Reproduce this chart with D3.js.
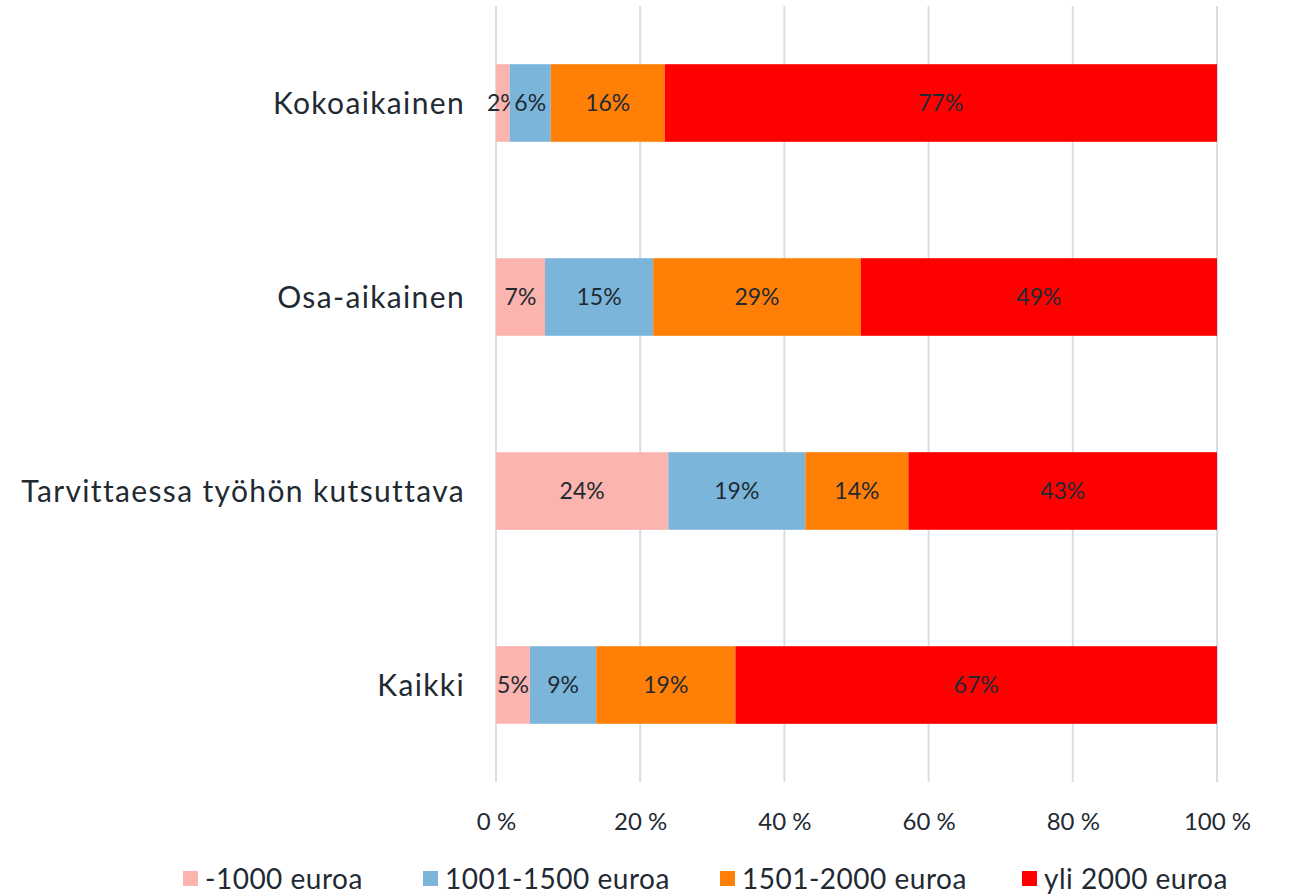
<html lang="fi">
<head>
    <meta charset="UTF-8">
    <title>Palkka työsuhteen mukaan</title>
    <style>
        body { margin: 0; background: #fff; }
        text { font-family: Lato, "Open Sans", sans-serif; fill: #1f2a33; }
        .grid line { stroke: #d5dfe8; stroke-width: 2px; }
    </style>
</head>
<body>
    <svg width="1289" height="896"></svg>

    <script src="https://d3js.org/d3.v7.min.js"></script>
    <script>
        (function() {
            'use strict';

            var categories = ["Kokoaikainen", "Osa-aikainen", "Tarvittaessa työhön kutsuttava", "Kaikki"];
            var seriesNames = ["-1000 euroa", "1001-1500 euroa", "1501-2000 euroa", "yli 2000 euroa"];
            // osuudet prosentteina, luettu kuvasta
            var under1000 = [1.9, 6.8, 23.9, 4.7];
            var from1001 = [5.7, 15.0, 19.0, 9.2];
            var from1501 = [15.8, 28.8, 14.3, 19.3];
            var over2000 = [76.6, 49.4, 42.8, 66.8];
            var ticks = [0, 20, 40, 60, 80, 100];
            var colors = ["#fbb4ae", "#7bb6da", "#ff7f07", "#ff0000"];

            var series = [under1000, from1001, from1501, over2000];

            var rows = categories.map(function(c, i) {
                var row = { name: c };
                seriesNames.forEach(function(s, j) { row[s] = series[j][i]; });
                return row;
            });

            var stack = d3.stack().keys(seriesNames).offset(d3.stackOffsetExpand);
            var layers = stack(rows);

            var LEFT = 496, RIGHT = 1217, TOP = 6, BOTTOM = 782;

            var x = d3.scaleLinear().domain([0, 1]).range([LEFT, RIGHT]);
            var y = d3.scaleBand().domain(categories).range([TOP, BOTTOM]).paddingInner(0.6).paddingOuter(0.3);

            var svg = d3.select("svg");

            // pystyviivat
            svg.append("g").attr("class", "grid")
                .selectAll("line")
                .data(ticks)
                .enter()
                .append("line")
                .attr("x1", function(d) { return x(d / 100); })
                .attr("x2", function(d) { return x(d / 100); })
                .attr("y1", TOP)
                .attr("y2", BOTTOM);

            var layer = svg.selectAll(".layer")
                .data(layers)
                .enter()
                .append("g")
                .attr("class", "layer")
                .attr("fill", function(d, i) { return colors[i]; });

            layer.selectAll("rect")
                .data(function(d) { return d; })
                .enter()
                .append("rect")
                .attr("x", function(d) { return x(d[0]); })
                .attr("width", function(d) { return x(d[1]) - x(d[0]); })
                .attr("y", function(d) { return y(d.data.name); })
                .attr("height", y.bandwidth());

            layer.selectAll("text")
                .data(function(d) { return d; })
                .enter()
                .append("text")
                .attr("x", function(d) { return (x(d[0]) + x(d[1])) / 2; })
                .attr("y", function(d) { return y(d.data.name) + y.bandwidth() / 2; })
                .attr("dy", "0.35em")
                .attr("text-anchor", "middle")
                .attr("font-size", 23)
                .text(function(d) { return Math.round((d[1] - d[0]) * 100) + "%"; });

            // kategoriat
            svg.append("g")
                .selectAll("text")
                .data(categories)
                .enter()
                .append("text")
                .attr("x", 465)
                .attr("y", function(d) { return y(d) + y.bandwidth() / 2; })
                .attr("dy", "0.35em")
                .attr("text-anchor", "end")
                .attr("font-size", 30)
                .attr("letter-spacing", 1.35)
                .text(function(d) { return d; });

            // x-akseli
            var xAxis = d3.axisBottom(x)
                .tickValues(ticks.map(function(t) { return t / 100; }))
                .tickSize(0)
                .tickFormat(function(d) { return Math.round(d * 100) + " %"; });

            var ax = svg.append("g")
                .attr("transform", "translate(0," + 812 + ")")
                .call(xAxis);
            ax.select(".domain").remove();
            ax.selectAll("text")
                .attr("font-size", 24)
                .attr("dy", "0.35em")
                .attr("y", 10)
                .attr("font-family", null);

            // selite
            var legendX = [183, 423, 720, 1022];
            var legend = svg.append("g")
                .selectAll("g")
                .data(seriesNames)
                .enter()
                .append("g")
                .attr("transform", function(d, i) { return "translate(" + legendX[i] + ",871)"; });

            legend.append("rect")
                .attr("width", 15)
                .attr("height", 15)
                .attr("fill", function(d, i) { return colors[i]; });

            legend.append("text")
                .attr("x", 22)
                .attr("y", 8)
                .attr("dy", "0.35em")
                .attr("font-size", 28)
                .attr("letter-spacing", 0.5)
                .text(function(d) { return d; });
        })();
    </script>
</body>
</html>
